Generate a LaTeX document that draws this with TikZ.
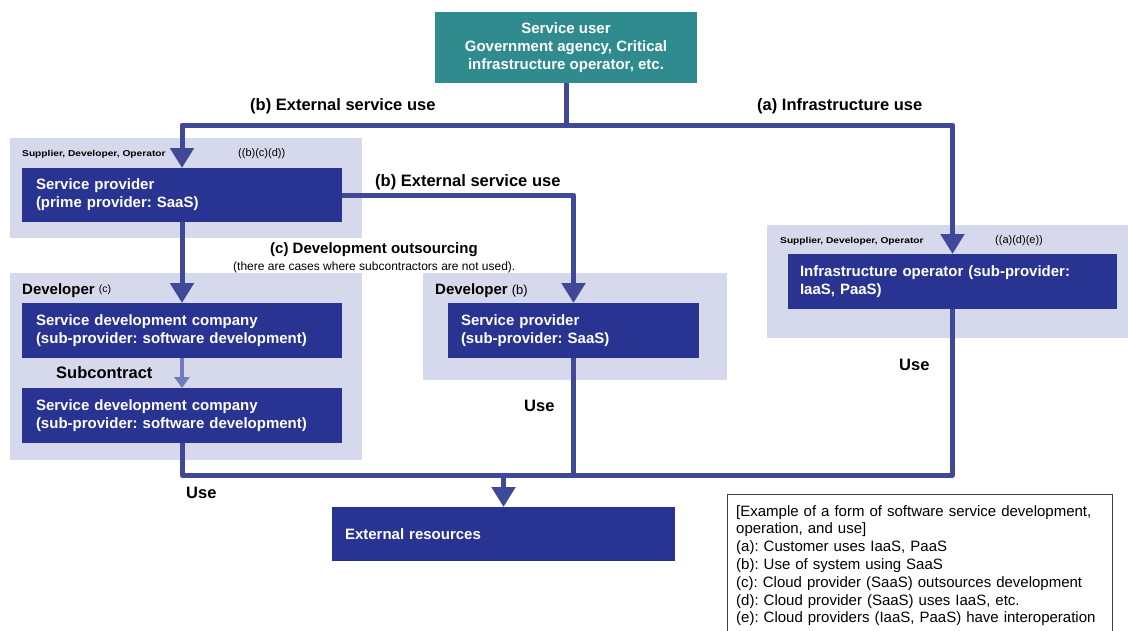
\documentclass[tikz,border=0pt]{standalone}
\usepackage{fontspec}
\setmainfont{Liberation Sans}
\usetikzlibrary{arrows.meta}
\frenchspacing
\definecolor{panelfill}{RGB}{214,216,236}
\definecolor{boxblue}{RGB}{41,51,146}
\definecolor{linkblue}{RGB}{64,72,152}
\definecolor{subblue}{RGB}{111,123,186}
\definecolor{userteal}{RGB}{47,139,141}
\definecolor{legendline}{RGB}{60,60,60}
\begin{document}
\begin{tikzpicture}[x=1pt,y=-1pt,
  panel/.style={fill=panelfill, draw=none, anchor=north west, inner sep=0pt, outer sep=0pt},
  actor/.style={fill=boxblue, draw=none, text=white, anchor=north west, align=left,
    inner xsep=14pt, inner ysep=0pt, outer sep=0pt, font=\bfseries\fontsize{15}{18}\selectfont},
  tag/.style={anchor=base west, inner sep=0pt, font=\bfseries\fontsize{16.5}{19}\selectfont},
  minitag/.style={anchor=base west, inner sep=0pt,
    font=\bfseries\fontsize{8.5}{10}\selectfont\addfontfeature{FakeStretch=1.2}},
  casetag/.style={anchor=base west, inner sep=0pt, font=\fontsize{11}{13}\selectfont},
  link/.style={draw=linkblue, line width=5pt, line join=round},
  tip/.style={-{Triangle[width=23pt,length=20pt]}},
]
\clip (0,0) rectangle (1128,630);
\fill[white] (0,0) rectangle (1128,630);

% grouping panels
\node[panel, minimum width=352pt, minimum height=100pt] (grpprime) at (10,138) {};
\node[panel, minimum width=352pt, minimum height=187pt] (grpdevc) at (10,273) {};
\node[panel, minimum width=304pt, minimum height=107pt] (grpdevb) at (423,273) {};
\node[panel, minimum width=361pt, minimum height=113pt] (grpinfra) at (767,225) {};

% panel captions
\node[minitag] (capprime) at (22,156) {Supplier, Developer, Operator};
\node[casetag] (casesprime) at (238,156) {((b)(c)(d))};
\node[minitag] (capinfra) at (780,243) {Supplier, Developer, Operator};
\node[casetag] (casesinfra) at (995,243) {((a)(d)(e))};
\node[anchor=base west, inner sep=0pt, font=\bfseries\fontsize{15}{18}\selectfont] (capdevc) at (22,294)
  {Developer {\mdseries\fontsize{10.5}{12}\selectfont\raisebox{2pt}{(c)}}};
\node[anchor=base west, inner sep=0pt, font=\bfseries\fontsize{15}{18}\selectfont] (capdevb) at (435,294)
  {Developer {\mdseries\fontsize{13}{15}\selectfont(b)}};

% service user
\node[fill=userteal, text=white, anchor=north west, align=center, inner sep=0pt, outer sep=0pt,
  minimum width=262pt, minimum height=71pt, font=\bfseries\fontsize{15}{18}\selectfont] (user) at (435,12)
  {Service user\\Government agency, Critical\\infrastructure operator, etc.};

% actors
\node[actor, text width=292pt, minimum height=54pt] (prime) at (22,168)
  {Service provider\\(prime provider: SaaS)};
\node[actor, text width=292pt, minimum height=55pt] (dev1) at (22,303)
  {Service development company\\(sub-provider: software development)};
\node[actor, text width=292pt, minimum height=55pt] (dev2) at (22,388)
  {Service development company\\(sub-provider: software development)};
\node[actor, inner xsep=13pt, text width=225pt, minimum height=55pt] (subsaas) at (448,303)
  {Service provider\\(sub-provider: SaaS)};
\node[actor, inner xsep=12pt, text width=305pt, minimum height=55pt] (infra) at (788,254)
  {Infrastructure operator (sub-provider:\\IaaS, PaaS)};
\node[actor, inner xsep=13pt, text width=317pt, minimum height=54pt] (ext) at (332,507)
  {External resources};

% connector labels
\node[tag] (lblextuse) at (250,110) {(b) External service use};
\node[tag] (lblinfrause) at (757,110) {(a) Infrastructure use};
\node[tag] (lblextuse2) at (375,186) {(b) External service use};
\node[anchor=base west, inner sep=0pt, font=\bfseries\fontsize{15}{18}\selectfont] (lbloutsrc) at (270,253)
  {(c) Development outsourcing};
\node[anchor=base west, inner sep=0pt, font=\fontsize{12}{14}\selectfont] (lbloutnote) at (233,270)
  {(there are cases where subcontractors are not used).};
\node[tag] (lblsub) at (56,378) {Subcontract};
\node[tag] (lbluse1) at (186,498) {Use};
\node[tag] (lbluse2) at (524,411) {Use};
\node[tag] (lbluse3) at (899,370) {Use};

% connectors from the service user
\coordinate (topbus) at (user.south |- 0,125);
\draw[link, tip] (user.south) -- (topbus) -| (prime.north);
\draw[link, tip] (topbus) -| (infra.north);

% prime provider to its sub-providers
\draw[link, tip] (prime.east) -| (subsaas.north);
\draw[link, tip] (prime.south) -- (dev1.north);
\draw[draw=subblue, line width=4.5pt, -{Triangle[width=15pt,length=11pt]}] (dev1.south) -- (dev2.north);

% use of external resources
\coordinate (lowbus) at (ext.north |- 0,475);
\draw[link] (dev2.south) |- (lowbus);
\draw[link] (subsaas.south) |- (lowbus);
\draw[link] (infra.south) |- (lowbus);
\draw[link, tip] (lowbus) -- (ext.north);

% legend: frame running past the lower edge, text set from the top
\node[draw=legendline, line width=1pt, fill=white, anchor=north west, inner sep=0pt,
  minimum width=385pt, minimum height=160pt] (legendframe) at (727,494) {};
\node[anchor=north west, align=left, inner sep=0pt, text width=370pt,
  font=\fontsize{15}{17.8}\selectfont] (legend) at (736,505)
  {[Example of a form of software service development,\\
   operation, and use]\\
   (a): Customer uses IaaS, PaaS\\
   (b): Use of system using SaaS\\
   (c): Cloud provider (SaaS) outsources development\\
   (d): Cloud provider (SaaS) uses IaaS, etc.\\
   (e): Cloud providers (IaaS, PaaS) have interoperation};
\end{tikzpicture}
\end{document}
